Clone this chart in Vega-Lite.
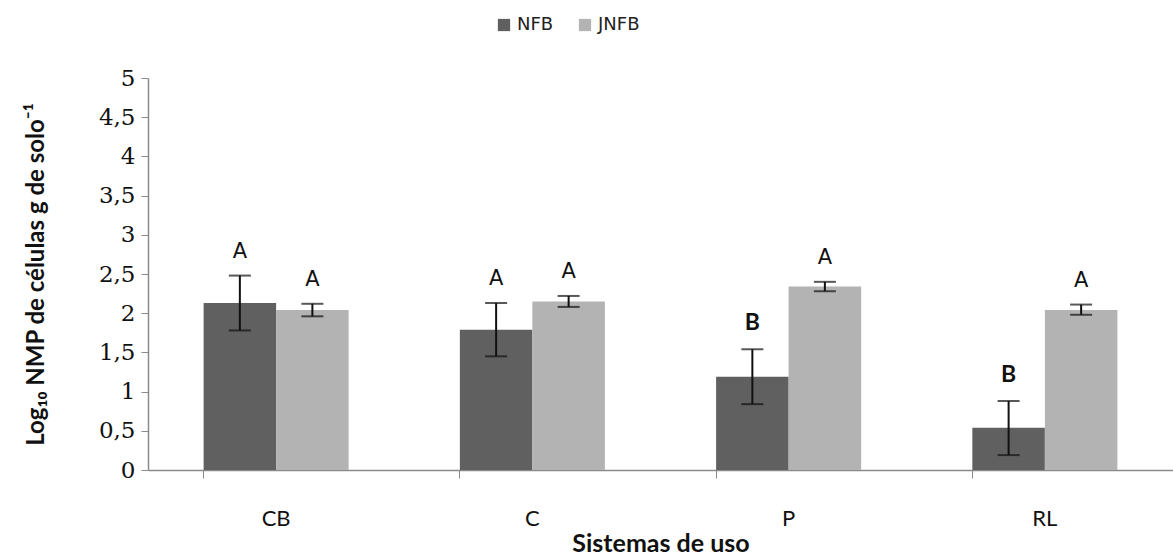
{
  "$schema": "https://vega.github.io/schema/vega-lite/v6.json",
  "width": 1025,
  "height": 392,
  "autosize": {"type": "none"},
  "padding": {"left": 148, "top": 78, "right": 0, "bottom": 88},
  "background": "white",
  "config": {
    "view": {"stroke": null},
    "axis": {"grid": false},
    "axisY": {
      "labelOverlap": false,
      "labelFont": "DejaVu Serif",
      "labelFontSize": 23,
      "labelColor": "#111",
      "labelPadding": 6,
      "domainColor": "#8a8a8a",
      "domainWidth": 1.5,
      "tickColor": "#8a8a8a",
      "tickSize": 7,
      "titleFont": "Lato",
      "titleFontSize": 24,
      "titleFontWeight": "bold",
      "titleColor": "#111",
      "titlePadding": 50
    }
  },
  "data": {
    "values": [
      {"sistema": "CB", "grupo": "NFB", "valor": 2.13, "lo": 1.78, "hi": 2.48, "letra": "A"},
      {"sistema": "CB", "grupo": "JNFB", "valor": 2.04, "lo": 1.96, "hi": 2.12, "letra": "A"},
      {"sistema": "C", "grupo": "NFB", "valor": 1.79, "lo": 1.45, "hi": 2.13, "letra": "A"},
      {"sistema": "C", "grupo": "JNFB", "valor": 2.15, "lo": 2.08, "hi": 2.22, "letra": "A"},
      {"sistema": "P", "grupo": "NFB", "valor": 1.19, "lo": 0.84, "hi": 1.54, "letra": "B"},
      {"sistema": "P", "grupo": "JNFB", "valor": 2.34, "lo": 2.28, "hi": 2.40, "letra": "A"},
      {"sistema": "RL", "grupo": "NFB", "valor": 0.54, "lo": 0.19, "hi": 0.88, "letra": "B"},
      {"sistema": "RL", "grupo": "JNFB", "valor": 2.04, "lo": 1.98, "hi": 2.11, "letra": "A"}
    ]
  },
  "encoding": {
    "x": {
      "field": "sistema",
      "type": "nominal",
      "sort": ["CB", "C", "P", "RL"],
      "scale": {"paddingInner": 0.434, "paddingOuter": 0.217},
      "axis": {
        "title": "Sistemas de uso",
        "titleFont": "Lato",
        "titleFontSize": 25,
        "titleFontWeight": "bold",
        "titleColor": "#111",
        "titlePadding": 2,
        "labelAngle": 0,
        "labelFont": "Lato",
        "labelFontSize": 22,
        "labelColor": "#111",
        "labelPadding": 30,
        "domainColor": "#8a8a8a",
        "domainWidth": 1.5,
        "tickColor": "#8a8a8a",
        "tickSize": 8,
        "bandPosition": 0
      }
    },
    "xOffset": {
      "field": "grupo",
      "type": "nominal",
      "sort": ["NFB", "JNFB"],
      "scale": {"paddingInner": 0, "paddingOuter": 0}
    }
  },
  "layer": [
    {
      "mark": {"type": "bar"},
      "encoding": {
        "y": {
          "field": "valor",
          "type": "quantitative",
          "scale": {"domain": [0, 5], "nice": false},
          "axis": {
            "title": "Log₁₀ NMP de células  g de solo⁻¹",
            "values": [0, 0.5, 1, 1.5, 2, 2.5, 3, 3.5, 4, 4.5, 5],
            "format": ".1~f",
            "formatType": "number",
            "labelExpr": "replace(datum.label, '.', ',')"
          }
        },
        "color": {
          "field": "grupo",
          "type": "nominal",
          "scale": {"domain": ["NFB", "JNFB"], "range": ["#606060", "#b3b3b3"]},
          "legend": {
            "title": null,
            "orient": "none",
            "direction": "horizontal",
            "legendX": 347,
            "legendY": -62,
            "symbolType": "square",
            "symbolSize": 150,
            "symbolStrokeWidth": 0,
            "labelFont": "DejaVu Sans",
            "labelFontSize": 18,
            "labelColor": "#222",
            "columnPadding": 22
          }
        }
      }
    },
    {
      "mark": {"type": "rule", "color": "#111", "strokeWidth": 2},
      "encoding": {
        "y": {"field": "lo", "type": "quantitative", "axis": {"title": "Log₁₀ NMP de células  g de solo⁻¹", "values": [0, 0.5, 1, 1.5, 2, 2.5, 3, 3.5, 4, 4.5, 5], "format": ".1~f", "formatType": "number", "labelExpr": "replace(datum.label, '.', ',')"}},
        "y2": {"field": "hi"}
      }
    },
    {
      "mark": {"type": "tick", "color": "#111", "thickness": 2, "size": 22, "orient": "horizontal"},
      "encoding": {
        "y": {"field": "lo", "type": "quantitative", "axis": {"title": "Log₁₀ NMP de células  g de solo⁻¹", "values": [0, 0.5, 1, 1.5, 2, 2.5, 3, 3.5, 4, 4.5, 5], "format": ".1~f", "formatType": "number", "labelExpr": "replace(datum.label, '.', ',')"}}
      }
    },
    {
      "mark": {"type": "tick", "color": "#111", "thickness": 2, "size": 22, "orient": "horizontal"},
      "encoding": {
        "y": {"field": "hi", "type": "quantitative", "axis": {"title": "Log₁₀ NMP de células  g de solo⁻¹", "values": [0, 0.5, 1, 1.5, 2, 2.5, 3, 3.5, 4, 4.5, 5], "format": ".1~f", "formatType": "number", "labelExpr": "replace(datum.label, '.', ',')"}}
      }
    },
    {
      "transform": [{"filter": "datum.letra == 'A'"}],
      "mark": {"type": "text", "font": "DejaVu Sans", "fontSize": 21, "baseline": "bottom", "dy": -14, "color": "#111"},
      "encoding": {
        "y": {"field": "hi", "type": "quantitative", "axis": {"title": "Log₁₀ NMP de células  g de solo⁻¹", "values": [0, 0.5, 1, 1.5, 2, 2.5, 3, 3.5, 4, 4.5, 5], "format": ".1~f", "formatType": "number", "labelExpr": "replace(datum.label, '.', ',')"}},
        "text": {"field": "letra"}
      }
    },
    {
      "transform": [{"filter": "datum.letra == 'B'"}],
      "mark": {"type": "text", "font": "Lato", "fontWeight": "bold", "fontSize": 23, "baseline": "bottom", "dy": -14, "color": "#111"},
      "encoding": {
        "y": {"field": "hi", "type": "quantitative", "axis": {"title": "Log₁₀ NMP de células  g de solo⁻¹", "values": [0, 0.5, 1, 1.5, 2, 2.5, 3, 3.5, 4, 4.5, 5], "format": ".1~f", "formatType": "number", "labelExpr": "replace(datum.label, '.', ',')"}},
        "text": {"field": "letra"}
      }
    }
  ]
}
